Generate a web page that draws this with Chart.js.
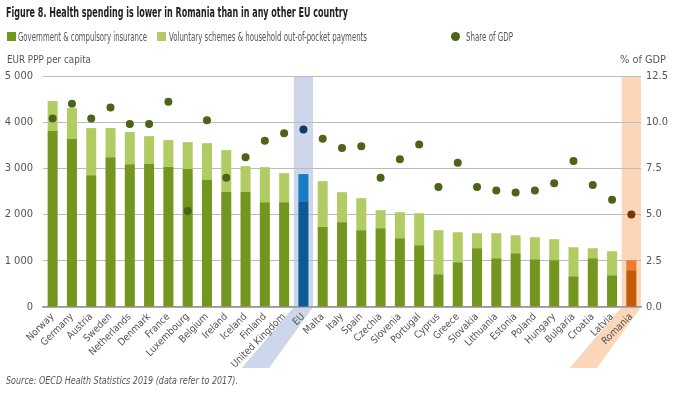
<!DOCTYPE html>
<html lang="en">
<head>
<meta charset="UTF-8">
<title>Health spending Romania</title>
<script src="https://cdn.jsdelivr.net/npm/chart.js"></script>
<style>
  body { margin: 0; background: #fff; font-family: "Liberation Sans Narrow", "DejaVu Sans Condensed", sans-serif; color: #555; }
  #wrap { position: relative; width: 676px; height: 399px; overflow: hidden; }
  canvas { position: absolute; left: 0; top: 0; }
  .txt { position: absolute; white-space: nowrap; transform-origin: 0 0; }
  #title { left: 6px; top: 4px; font-size: 14.5px; font-weight: bold; color: #222; }
  .leg { top: 30px; font-size: 11.5px; }
  .sq { position: absolute; top: 32px; width: 9px; height: 9px; }
  .dot { position: absolute; top: 32px; width: 9px; height: 9px; border-radius: 50%; background: #4a6418; }
  #ytitle { left: 7px; top: 53px; font-size: 11px; }
  #y2title { left: 620px; top: 53px; font-size: 11px; }
  #source { left: 6px; top: 374px; font-size: 10.5px; font-style: italic; }
</style>
</head>
<body>
<div id="wrap">
  <canvas id="chart" width="676" height="399"></canvas>
  <div class="txt" id="title" data-w="342">Figure 8. Health spending is lower in Romania than in any other EU country</div>
  <div class="sq" style="left:7px;background:#73961e"></div>
  <div class="txt leg" style="left:18px" data-w="129">Government &amp; compulsory insurance</div>
  <div class="sq" style="left:157px;background:#b2cc64"></div>
  <div class="txt leg" style="left:169px" data-w="198">Voluntary schemes &amp; household out-of-pocket payments</div>
  <div class="dot" style="left:451px"></div>
  <div class="txt leg" style="left:466px" data-w="47">Share of GDP</div>
  <div class="txt" id="ytitle" data-w="84">EUR PPP per capita</div>
  <div class="txt" id="y2title" data-w="46">% of GDP</div>
  <div class="txt" id="source" data-w="232">Source: OECD Health Statistics 2019 (data refer to 2017).</div>
</div>
<script>
  const categories = ['Norway', 'Germany', 'Austria', 'Sweden', 'Netherlands', 'Denmark', 'France', 'Luxembourg',
    'Belgium', 'Ireland', 'Iceland', 'Finland', 'United Kingdom', 'EU', 'Malta', 'Italy', 'Spain', 'Czechia',
    'Slovenia', 'Portugal', 'Cyprus', 'Greece', 'Slovakia', 'Lithuania', 'Estonia', 'Poland', 'Hungary',
    'Bulgaria', 'Croatia', 'Latvia', 'Romania'];
  // EUR PPP per capita
  const government = [3808, 3634, 2854, 3244, 3092, 3095, 3037, 2987, 2749, 2489, 2489, 2269, 2269, 2290, 1734,
    1835, 1662, 1705, 1488, 1337, 708, 968, 1272, 1055, 1163, 1033, 1012, 665, 1055, 686, 795];
  const voluntary = [650, 672, 1019, 629, 694, 604, 576, 582, 798, 907, 560, 758, 628, 586, 990,
    650, 693, 390, 564, 693, 954, 650, 325, 542, 390, 477, 455, 628, 217, 521, 217];
  // % of GDP
  const shareGDP = [10.2, 11.0, 10.2, 10.8, 9.9, 9.9, 11.1, 5.2, 10.1, 7.0, 8.1, 9.0, 9.4, 9.6, 9.1,
    8.6, 8.7, 7.0, 8.0, 8.8, 6.5, 7.8, 6.5, 6.3, 6.2, 6.3, 6.7, 7.9, 6.6, 5.8, 5.0];
  const leftTicks = [0, 1000, 2000, 3000, 4000, 5000];
  const rightTicks = [0, 2.5, 5.0, 7.5, 10.0, 12.5];

  // squeeze the html texts to the widths seen in the picture
  document.querySelectorAll('.txt').forEach(el => {
    const w = el.getBoundingClientRect().width;
    el.style.transform = 'scaleX(' + (el.dataset.w / w) + ')';
  });

  const pick = (eu, ro, other) => categories.map(c => c === 'EU' ? eu : c === 'Romania' ? ro : other);

  const bands = { 'EU': '#cdd6ea', 'Romania': '#fcd6b8' };

  const bandPlugin = {
    id: 'bands',
    beforeDraw(chart) {
      const ctx = chart.ctx, x = chart.scales.x, area = chart.chartArea;
      const w = x.width / categories.length;
      Object.keys(bands).forEach(name => {
        const cx = x.getPixelForValue(categories.indexOf(name));
        const l = cx - w / 2, r = cx + w / 2, b = area.bottom;
        ctx.save();
        ctx.fillStyle = bands[name];
        ctx.fillRect(l, area.top, w, b - area.top);
        ctx.beginPath();
        ctx.moveTo(l, b);
        ctx.lineTo(r, b);
        ctx.lineTo(r - 44, b + 61);
        ctx.lineTo(l - 52, b + 61);
        ctx.closePath();
        ctx.fill();
        ctx.restore();
      });
    }
  };

  Chart.defaults.font.family = '"Liberation Sans Narrow", "DejaVu Sans Condensed", sans-serif';
  Chart.defaults.color = '#555';

  new Chart(document.getElementById('chart'), {
    type: 'bar',
    data: {
      labels: categories,
      datasets: [
        {
          type: 'line',
          label: 'Share of GDP',
          data: shareGDP,
          yAxisID: 'y2',
          showLine: false,
          pointRadius: 4,
          pointBorderWidth: 0,
          pointBackgroundColor: pick('#0d3b66', '#7a3608', '#4a6418'),
          order: 0
        },
        {
          label: 'Government & compulsory insurance',
          data: government,
          backgroundColor: pick('#0e5a96', '#c45a0a', '#73961e'),
          barPercentage: 0.52,
          categoryPercentage: 1,
          order: 1
        },
        {
          label: 'Voluntary schemes & household out-of-pocket payments',
          data: voluntary,
          backgroundColor: pick('#147dc3', '#eb7d32', '#b2cc64'),
          barPercentage: 0.52,
          categoryPercentage: 1,
          order: 1
        }
      ]
    },
    options: {
      responsive: false,
      animation: false,
      layout: { padding: { top: 76, left: 0, right: 0, bottom: 0 } },
      plugins: { legend: { display: false }, tooltip: { enabled: false } },
      scales: {
        x: {
          stacked: true,
          grid: { display: false, drawTicks: false },
          border: { display: true, color: '#999', width: 1.5 },
          ticks: { autoSkip: false, minRotation: 45, maxRotation: 45, padding: 4, color: '#555', font: { size: 10 } },
          afterFit(s) { s.height = 92; }
        },
        y: {
          stacked: true,
          min: 0,
          max: 5000,
          afterBuildTicks(s) { s.ticks = leftTicks.map(v => ({ value: v })); },
          ticks: { padding: 10, color: '#555', font: { size: 11 }, callback: v => String(v).replace(/\B(?=(\d{3})+(?!\d))/g, ' ') },
          grid: { color: '#bbb', drawTicks: false },
          border: { display: false },
          afterFit(s) { s.width = 43; }
        },
        y2: {
          position: 'right',
          min: 0,
          max: 12.5,
          afterBuildTicks(s) { s.ticks = rightTicks.map(v => ({ value: v })); },
          ticks: { padding: 5, color: '#555', font: { size: 11 }, callback: v => v.toFixed(1) },
          grid: { display: false, drawTicks: false },
          border: { display: false },
          afterFit(s) { s.width = 35; }
        }
      }
    },
    plugins: [bandPlugin]
  });
</script>
</body>
</html>
